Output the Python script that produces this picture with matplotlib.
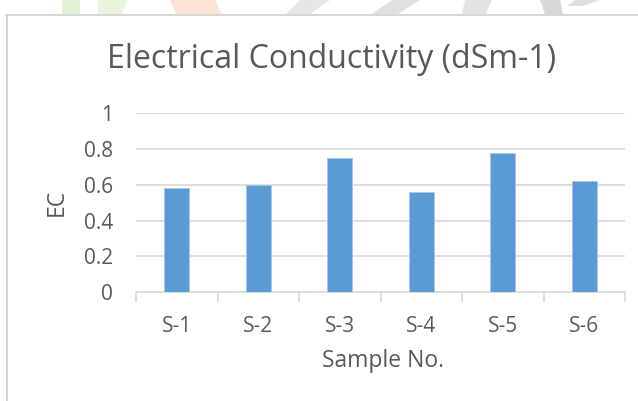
import matplotlib
matplotlib.use("Agg")
import matplotlib.pyplot as plt
import matplotlib.patches as mpatches
import numpy as np

# data
samples = ["S-1", "S-2", "S-3", "S-4", "S-5", "S-6"]
ec_values = [0.58, 0.60, 0.75, 0.56, 0.78, 0.62]
y_ticks = [0, 0.2, 0.4, 0.6, 0.8, 1]
y_tick_labels = ["0", "0.2", "0.4", "0.6", "0.8", "1"]

plt.rcParams['font.family'] = ['Open Sans', 'DejaVu Sans']
text_grey = "#595959"
grid_grey = "#d9d9d9"
bar_blue = "#5b9bd5"

W, H = 638, 401
fig = plt.figure(figsize=(W / 100, H / 100), dpi=100)
fig.patch.set_facecolor("white")

# pixel -> figure fraction helpers
def fx(px):
    return px / W

def fy(py):
    return 1 - py / H

# faint scraps of the page watermark above the chart frame
watermark = [
    ([(62, 0), (80, 0), (80, 14), (62, 14)], "#e3f2d5"),
    ([(98, 0), (128, 0), (122, 14), (98, 14)], "#e8f4dc"),
    ([(170, 0), (215, 0), (222, 14), (176, 14)], "#fde3d6"),
    ([(300, 0), (330, 0), (310, 14), (286, 14)], "#e6e6e6"),
    ([(392, 0), (420, 0), (398, 14), (372, 14)], "#e0e0e0"),
    ([(465, 0), (492, 0), (486, 14), (462, 14)], "#e3e3e3"),
    ([(540, 0), (560, 0), (563, 14), (545, 14)], "#d8d8d8"),
    ([(575, 0), (600, 0), (583, 6), (567, 6)], "#e0e0e0"),
]
for pts, col in watermark:
    fig.patches.append(mpatches.Polygon([(fx(x), fy(y)) for x, y in pts], closed=True,
                                        transform=fig.transFigure, facecolor=col,
                                        edgecolor="none", zorder=0))

# chart frame lines (top and left edge)
fig.add_artist(plt.Line2D([fx(6), 1], [fy(14.5), fy(14.5)], transform=fig.transFigure,
                          color="#d0d0d0", lw=1.2))
fig.add_artist(plt.Line2D([fx(6.5), fx(6.5)], [0, fy(14.5)], transform=fig.transFigure,
                          color="#d0d0d0", lw=1.2))

ax = fig.add_axes([fx(136), fy(292), fx(625) - fx(136), fy(113.3) - fy(292)])
x = np.arange(len(samples))
ax.bar(x, ec_values, width=0.31, color=bar_blue, edgecolor="#a9c8ea", linewidth=0.6, zorder=3)

ax.set_xlim(-0.5, len(samples) - 0.5)
ax.set_ylim(0, 1)
ax.set_yticks(y_ticks)
ax.set_yticklabels(y_tick_labels)
ax.set_xticks(x)
ax.set_xticklabels(samples)
ax.set_xticks(np.arange(len(samples) + 1) - 0.5, minor=True)

ax.grid(axis="y", color=grid_grey, linewidth=1.2, zorder=0)
for side in ["top", "right", "left"]:
    ax.spines[side].set_visible(False)
ax.spines["bottom"].set_color(grid_grey)
ax.spines["bottom"].set_linewidth(1.2)

ax.tick_params(axis="y", length=0, pad=16.5, labelsize=15, labelcolor=text_grey)
ax.tick_params(axis="x", which="major", length=0, pad=17, labelsize=15, labelcolor=text_grey)
ax.tick_params(axis="x", which="minor", length=7, width=1.2, color=grid_grey, direction="out")

ax.set_ylabel("EC", fontsize=16.5, color=text_grey)
ax.yaxis.label.set_va("center")
ax.yaxis.set_label_coords((57 - 136) / (625 - 136), 0.5)
ax.set_xlabel("Sample No.", fontsize=16.5, color=text_grey)
ax.xaxis.label.set_va("baseline")
ax.xaxis.set_label_coords((383 - 136) / (625 - 136), -(367 - 292) / (292 - 113.3))

fig.text(fx(332), fy(67.5), "Electrical Conductivity (dSm-1)", fontsize=23, color=text_grey,
         ha="center", va="baseline")

fig.savefig("out.png", dpi=100)
